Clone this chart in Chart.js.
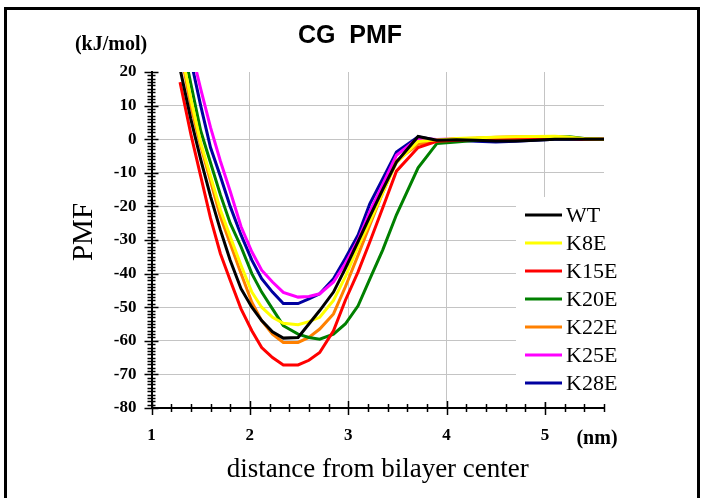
<!DOCTYPE html>
<html>
<head>
<meta charset="utf-8">
<script src="https://cdn.jsdelivr.net/npm/chart.js@4/dist/chart.umd.min.js"></script>
<style>
html,body{margin:0;padding:0;background:#fff;}
#wrap{width:706px;height:498px;position:relative;}
</style>
</head>
<body>
<div id="wrap"><canvas id="c" width="706" height="498"></canvas></div>
<script>
// distance from bilayer center (nm)
const xs = [1.29, 1.40, 1.50, 1.60, 1.70, 1.80, 1.91, 2.02, 2.12, 2.23, 2.34, 2.49, 2.60, 2.71, 2.85, 2.97, 3.10, 3.22, 3.35, 3.49, 3.71, 3.90, 4.10, 4.30, 4.50, 4.70, 4.90, 5.10, 5.25, 5.40, 5.60];
// PMF (kJ/mol)
const WT   = [21, 6, -6, -17, -27, -36, -44.5, -50, -54, -57.3, -59.2, -59, -55, -51, -45.5, -38.5, -30.5, -23, -15, -6.8, 0.8, -0.3, -0.2, -0.3, -0.5, -0.5, -0.3, 0, 0, 0, 0];
const K8E  = [28, 12, -1, -11, -21, -29, -37.5, -45.5, -50, -53, -54.8, -55.2, -54.3, -53, -48, -41, -32, -24.5, -16, -7, -0.7, -0.2, 0.2, 0.4, 0.6, 0.7, 0.8, 0.9, 0.6, 0.1, 0];
const K15E = [17, 1.5, -11, -23.5, -34, -42, -50.5, -57, -62, -65, -67.2, -67.2, -65.8, -63.5, -57, -48, -39.5, -30.5, -20.5, -9.5, -2.5, -0.6, -0.3, 0, 0.2, 0.3, 0.3, 0.3, 0.2, 0, 0];
const K20E = [32, 16.5, 2.5, -7, -16.5, -25, -32, -40, -45.5, -50.5, -55.5, -58, -59, -59.5, -58, -55, -49.6, -41.6, -33, -22.5, -8.5, -1.3, -0.8, -0.3, 0, 0.2, 0.4, 0.6, 0.7, 0.2, 0];
const K22E = [27, 10, -2, -12.5, -23, -31, -40, -48.5, -54, -58, -60.5, -60.5, -59, -56.5, -52, -44, -34.5, -25.5, -16, -6.5, -1.5, -0.5, 0.2, 0.3, 0.6, 0.7, 0.7, 0.8, 0.5, 0.1, 0];
const K25E = [45, 27, 15, 3.5, -6.5, -15.5, -26, -33.5, -39, -42.5, -45.6, -47, -46.8, -46, -42.5, -37, -30, -21.5, -13.5, -4.8, 0.3, -0.1, 0.1, 0.3, 0.5, 0.5, 0.5, 0.4, 0.2, 0, 0];
const K28E = [40, 23.5, 10, -2.5, -11, -20, -28.5, -36, -41.5, -45.5, -48.9, -48.9, -47.5, -46, -41.5, -35.5, -28.5, -19.2, -11.8, -3.8, 0.7, -0.3, -0.3, -0.6, -0.8, -0.6, -0.3, 0, 0, 0, 0];

const seriesNames = ['WT', 'K8E', 'K15E', 'K20E', 'K22E', 'K25E', 'K28E'];
const seriesValues = [WT, K8E, K15E, K20E, K22E, K25E, K28E];
const seriesColors = ['#000000', '#ffff00', '#ff0000', '#008000', '#ff8000', '#ff00ff', '#0000a0'];

const xMin = 1, xMax = 5.6, yMin = -80, yMax = 20;
const xTickLabels = [1, 2, 3, 4, 5];
const yTickLabels = [20, 10, 0, -10, -20, -30, -40, -50, -60, -70, -80];

const datasets = seriesNames.map((name, i) => ({
  label: name,
  data: xs.map((x, j) => ({x: x, y: seriesValues[i][j]})),
  borderColor: seriesColors[i],
  backgroundColor: seriesColors[i],
  borderWidth: 3,
  pointRadius: 0,
  tension: 0,
  clip: 0,
  fill: false
}));

const serif = "'Liberation Serif','Times New Roman',serif";
const sans = "'Liberation Sans',Arial,sans-serif";

const decor = {
  id: 'decor',
  afterDraw(chart) {
    const ctx = chart.ctx;
    const xs_ = chart.scales.x, ys_ = chart.scales.y;
    const area = chart.chartArea;
    ctx.save();
    // outer frame
    ctx.strokeStyle = '#000';
    ctx.lineWidth = 3;
    ctx.strokeRect(5.5, 8.5, 693, 520);

    // axis ticks (cross style)
    ctx.lineWidth = 1.5;
    ctx.strokeStyle = '#000';
    const ax = xs_.getPixelForValue(xMin);
    for (let v = yMin; v <= yMax + 1e-9; v += 1) {
      const py = Math.round(ys_.getPixelForValue(v)) + 0.5;
      const major = Math.abs(v % 10) < 1e-9;
      const L = major ? 7 : 4;
      ctx.beginPath();
      ctx.moveTo(ax - L, py);
      ctx.lineTo(ax + L, py);
      ctx.stroke();
    }
    const ay = ys_.getPixelForValue(yMin);
    for (let k = 0; k <= 23; k++) {
      const v = xMin + k * 0.2;
      if (v > xMax + 1e-9) break;
      const px = Math.round(xs_.getPixelForValue(v)) + 0.5;
      const major = Math.abs(v - Math.round(v)) < 1e-6;
      const L = major ? 7 : 4;
      ctx.beginPath();
      ctx.moveTo(px, ay - L);
      ctx.lineTo(px, ay + L);
      ctx.stroke();
    }

    // title
    ctx.fillStyle = '#000';
    ctx.textAlign = 'center';
    ctx.textBaseline = 'middle';
    ctx.font = 'bold 25px ' + sans;
    ctx.fillText('CG  PMF', 350, 36);

    // unit labels
    ctx.font = 'bold 20px ' + serif;
    ctx.fillText('(kJ/mol)', 111, 45);
    ctx.fillText('(nm)', 597, 439);

    // axis titles
    ctx.font = '27px ' + serif;
    ctx.fillText('distance from bilayer center', (area.left + area.right) / 2, 470);
    ctx.save();
    ctx.translate(84, 232);
    ctx.rotate(-Math.PI / 2);
    ctx.font = '29px ' + serif;
    ctx.fillText('PMF', 0, 0);
    ctx.restore();

    // legend
    ctx.fillStyle = '#fff';
    ctx.fillRect(516, 197, area.right - 516 + 4, 205);
    const top = 215, step = 28;
    ctx.font = '22px ' + serif;
    ctx.textAlign = 'left';
    chart.data.datasets.forEach((ds, i) => {
      const y = top + i * step;
      ctx.strokeStyle = ds.borderColor;
      ctx.lineWidth = 3;
      ctx.beginPath();
      ctx.moveTo(525, y);
      ctx.lineTo(562, y);
      ctx.stroke();
      ctx.fillStyle = '#000';
      ctx.fillText(ds.label, 566, y + 1);
    });
    ctx.restore();
  }
};

new Chart(document.getElementById('c'), {
  type: 'line',
  data: { datasets: datasets },
  options: {
    responsive: false,
    animation: false,
    layout: { padding: { left: 0, right: 102, top: 72, bottom: 0 } },
    plugins: { legend: { display: false }, title: { display: false }, tooltip: { enabled: false } },
    scales: {
      x: {
        type: 'linear',
        min: xMin, max: xMax,
        afterFit(scale) { scale.height = 90; },
        afterBuildTicks(scale) { scale.ticks = xTickLabels.map(v => ({value: v})); },
        ticks: {
          stepSize: 1, includeBounds: false, padding: 17, color: '#000',
          font: { family: serif, size: 17, weight: 'bold' },
          callback: v => String(v)
        },
        grid: {
          drawTicks: false,
          color: ctx => (ctx.tick && ctx.tick.value === xMin) ? 'rgba(0,0,0,0)' : '#c4c4c4',
          lineWidth: 1
        },
        border: { display: true, color: '#000', width: 2 }
      },
      y: {
        type: 'linear',
        min: yMin, max: yMax,
        afterFit(scale) { scale.width = 151.5; },
        afterBuildTicks(scale) { scale.ticks = yTickLabels.map(v => ({value: v})); },
        ticks: {
          stepSize: 10, padding: 15, color: '#000',
          font: { family: serif, size: 17, weight: 'bold' },
          callback: v => String(v)
        },
        grid: {
          drawTicks: false,
          color: ctx => (ctx.tick && (ctx.tick.value === yMax || ctx.tick.value === yMin)) ? 'rgba(0,0,0,0)' : '#c4c4c4',
          lineWidth: 1
        },
        border: { display: true, color: '#000', width: 2 }
      }
    }
  },
  plugins: [decor]
});
</script>
</body>
</html>
